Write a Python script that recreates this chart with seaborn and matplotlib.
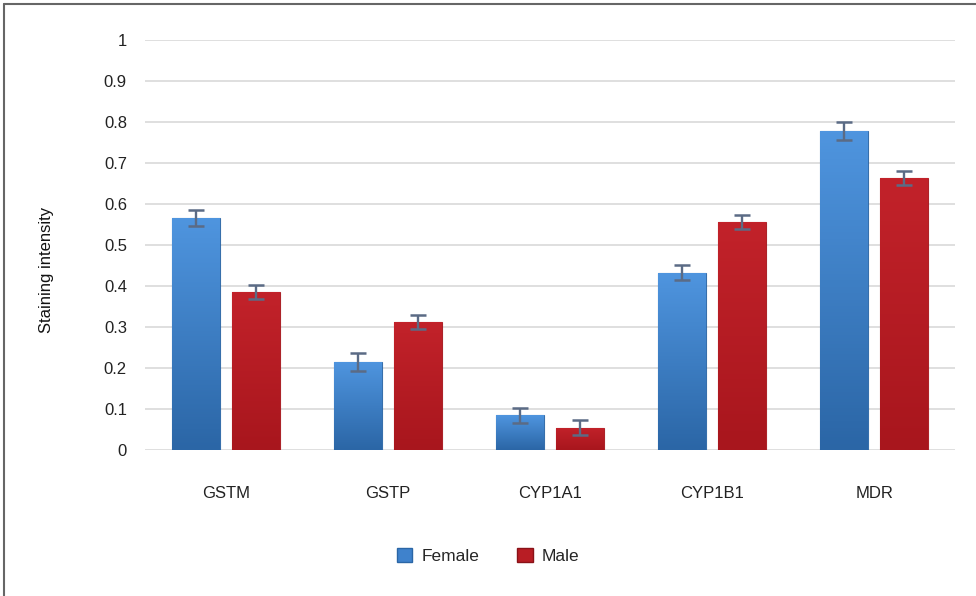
import matplotlib
matplotlib.use("Agg")
import matplotlib.pyplot as plt
from matplotlib.lines import Line2D
from matplotlib.patches import Patch
import numpy as np
import pandas as pd
import seaborn as sns

# values
genes = ["GSTM", "GSTP", "CYP1A1", "CYP1B1", "MDR"]
female = [0.566, 0.215, 0.085, 0.432, 0.778]
male = [0.385, 0.312, 0.054, 0.556, 0.663]
female_err = [0.019, 0.022, 0.018, 0.018, 0.022]
male_err = [0.018, 0.018, 0.018, 0.018, 0.018]
yticks = [0, 0.1, 0.2, 0.3, 0.4, 0.5, 0.6, 0.7, 0.8, 0.9, 1]
ytick_labels = ["0", "0.1", "0.2", "0.3", "0.4", "0.5", "0.6", "0.7", "0.8", "0.9", "1"]

sns.set_style("white")
plt.rcParams["font.family"] = ["Liberation Sans", "DejaVu Sans"]

df = pd.DataFrame({
    "gene": genes * 2,
    "sex": ["Female"] * len(genes) + ["Male"] * len(genes),
    "value": female + male,
    "err": female_err + male_err,
})

colors = {"Female": "#3f82cc", "Male": "#b81d24"}
grad = {"Female": ("#4f95df", "#2b66a6"), "Male": ("#c2222a", "#a8161d")}

fig = plt.figure(figsize=(9.76, 5.96), dpi=100)
ax = fig.add_axes([0.1486, 0.245, 0.83, 0.688])

sns.barplot(data=df, x="gene", y="value", hue="sex", order=genes,
            hue_order=["Female", "Male"], palette=colors, width=0.74, gap=0.2,
            errorbar=None, legend=False, ax=ax, zorder=2)

# gradient fill + error bars
for container, sex in zip(ax.containers, ["Female", "Male"]):
    sub = df[df.sex == sex].set_index("gene").loc[genes]
    top_c, bot_c = grad[sex]
    cmap = matplotlib.colors.LinearSegmentedColormap.from_list(sex, [bot_c, top_c])
    xs = []
    for bar in container:
        x0, w, h = bar.get_x(), bar.get_width(), bar.get_height()
        xs.append(x0 + w / 2)
        bar.set_edgecolor(matplotlib.colors.to_rgba(bot_c, 0.9))
        bar.set_linewidth(0.8)
        img = ax.imshow(np.linspace(0, 1, 100).reshape(-1, 1), cmap=cmap,
                        extent=[x0, x0 + w, 0, h], origin="lower",
                        aspect="auto", zorder=2.5)
        img.set_clip_path(bar)
    ax.errorbar(xs, sub["value"], yerr=sub["err"], fmt="none",
                ecolor="#5b6b85", elinewidth=1.7, capsize=5.5, capthick=1.8,
                zorder=4)

ax.set_xlim(-0.5, 4.5)
ax.set_ylim(0, 1)
ax.set_yticks(yticks)
ax.set_yticklabels(ytick_labels)
ax.yaxis.grid(True, color="#d9d9d9", linewidth=1.2, zorder=0)
ax.set_axisbelow(True)
for s in ax.spines.values():
    s.set_visible(False)
ax.tick_params(axis="y", length=0, pad=13, labelsize=12, labelcolor="#222222")
ax.tick_params(axis="x", length=0, pad=26, labelsize=12, labelcolor="#222222")
ax.set_xlabel("")
ax.set_ylabel("Staining intensity", fontsize=12, color="#111111")
ax.yaxis.set_label_coords(-0.112, 0.44)

handles = [Patch(facecolor=colors["Female"], edgecolor="#2b66a6", label="Female"),
           Patch(facecolor=colors["Male"], edgecolor="#8a1218", label="Male")]
fig.legend(handles=handles, loc="center", bbox_to_anchor=(0.5, 0.067), ncol=2,
           frameon=False, fontsize=12.5, handlelength=0.9, handleheight=0.9,
           handletextpad=0.5, columnspacing=2.2)

# frame lines at left and top of the figure
fig.add_artist(Line2D([0.0045, 0.0045], [0, 0.9935], transform=fig.transFigure,
                      color="#666666", linewidth=1.5))
fig.add_artist(Line2D([0.0045, 1], [0.9935, 0.9935], transform=fig.transFigure,
                      color="#666666", linewidth=1.5))

fig.savefig("out.png", dpi=100)
